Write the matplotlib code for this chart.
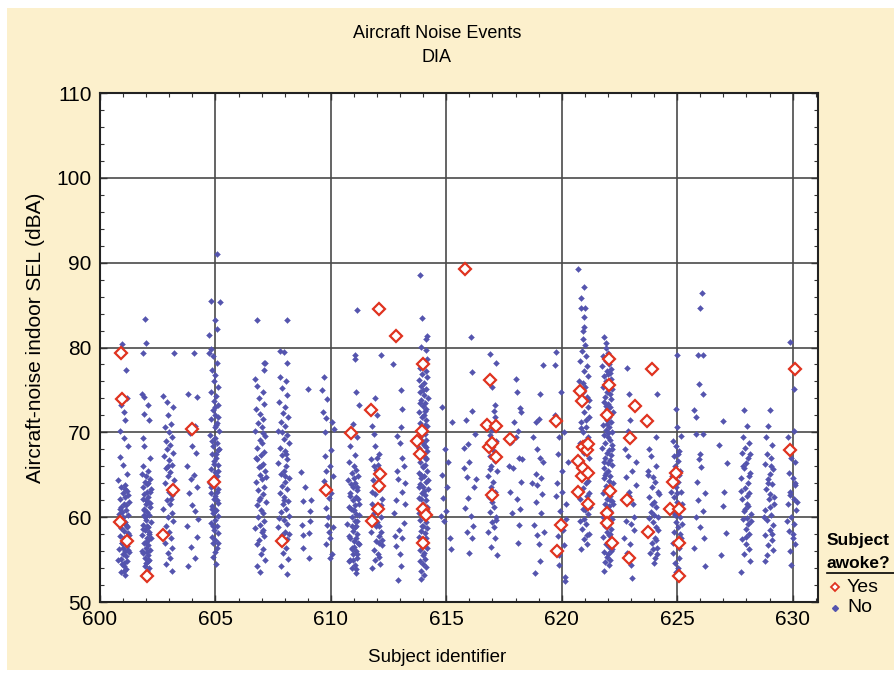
import matplotlib
matplotlib.use("Agg")
import matplotlib.pyplot as plt
from matplotlib.patches import Rectangle
from matplotlib.lines import Line2D
from matplotlib.ticker import MultipleLocator

plt.rcParams['font.family'] = ['Liberation Sans Narrow', 'Liberation Sans', 'DejaVu Sans']

# "No" events per subject: (offset from subject id, indoor SEL dBA)
no_601 = [(-0.05, 80.4), (0.12, 77.3), (0.18, 74.0), (-0.1, 73.2), (0.02, 72.4), (0.08, 71.4), (-0.15, 70.2),
          (0.05, 69.3), (0.2, 68.4), (-0.12, 67.1), (0.0, 66.2), (0.15, 65.1), (-0.2, 64.4), (0.07, 63.8),
          (-0.08, 63.5), (0.18, 63.1), (-0.02, 62.8), (0.1, 62.4), (-0.15, 62.1), (0.25, 61.8), (0.04, 61.5),
          (-0.1, 61.2), (0.13, 60.9), (-0.05, 60.6), (0.2, 60.3), (0.0, 60.0), (-0.18, 59.7), (0.09, 59.4),
          (0.16, 59.0), (-0.07, 58.7), (0.03, 58.4), (0.22, 58.1), (-0.12, 57.8), (0.06, 57.5), (0.14, 57.2),
          (-0.03, 56.9), (0.19, 56.6), (-0.16, 56.3), (0.08, 56.0), (0.01, 55.7), (0.11, 55.4), (-0.09, 55.1),
          (0.17, 54.8), (-0.04, 54.5), (0.05, 54.2), (0.13, 53.9), (-0.11, 53.5), (0.07, 53.2), (0.21, 62.6),
          (-0.13, 61.0), (0.1, 59.2), (-0.06, 57.0), (0.24, 55.9), (0.02, 54.6), (-0.17, 60.4), (0.15, 58.8),
          (-0.01, 56.4), (0.09, 63.3), (0.27, 57.9), (-0.22, 55.0), (0.12, 61.4), (-0.03, 59.9), (0.2, 56.1),
          (0.06, 53.7)]
no_602 = [(-0.05, 83.4), (-0.01, 80.5), (-0.15, 79.4), (-0.2, 74.5), (-0.08, 74.2), (0.08, 73.2), (-0.1, 72.2),
          (0.12, 71.4), (-0.14, 69.3), (-0.1, 68.4), (0.18, 67.0), (-0.14, 66.0), (0.1, 65.4), (-0.2, 65.1),
          (0.0, 64.8), (0.15, 64.5), (-0.05, 64.2), (0.05, 63.9), (-0.12, 63.6), (0.2, 63.3), (0.02, 63.0),
          (-0.08, 62.7), (0.1, 62.4), (-0.15, 62.1), (0.07, 61.8), (-0.02, 61.5), (0.17, 61.2), (-0.1, 60.9),
          (0.04, 60.6), (0.12, 60.3), (-0.06, 60.0), (0.0, 59.7), (0.19, 59.4), (-0.13, 59.1), (0.08, 58.8),
          (-0.04, 58.5), (0.14, 58.2), (-0.18, 57.9), (0.03, 57.6), (0.1, 57.3), (-0.09, 57.0), (0.06, 56.7),
          (-0.01, 56.4), (0.16, 56.1), (-0.12, 55.8), (0.09, 55.5), (-0.05, 55.2), (0.13, 54.9), (0.01, 54.6),
          (-0.07, 54.3), (0.11, 54.0), (0.05, 53.6), (-0.03, 53.3), (0.15, 63.0), (-0.11, 61.0), (0.02, 59.0),
          (0.2, 57.5), (-0.16, 56.0), (0.08, 54.8), (-0.02, 62.0), (0.12, 58.0), (0.04, 55.9), (-0.08, 60.2),
          (0.18, 61.7), (-0.14, 58.6), (0.06, 64.0), (0.0, 57.1), (0.1, 55.0)]
no_603 = [(-0.25, 74.3), (-0.1, 73.6), (0.15, 73.0), (-0.05, 72.0), (0.08, 71.0), (-0.2, 70.6), (-0.02, 70.0),
          (0.1, 69.5), (-0.15, 69.0), (0.05, 68.5), (-0.08, 68.0), (0.18, 67.6), (-0.22, 67.2), (0.0, 66.7),
          (0.12, 66.2), (-0.12, 65.8), (0.04, 65.3), (-0.06, 64.9), (0.2, 64.4), (-0.18, 64.0), (0.07, 63.6),
          (-0.03, 63.0), (0.14, 62.6), (-0.1, 62.0), (0.02, 61.6), (-0.26, 61.0), (0.1, 60.5), (-0.05, 60.0),
          (0.16, 59.5), (-0.14, 59.0), (0.0, 58.3), (0.08, 57.6), (-0.2, 57.0), (0.12, 56.4), (-0.07, 55.8),
          (0.05, 55.2), (-0.12, 54.5), (0.1, 53.6), (-0.04, 66.0), (0.06, 62.2), (0.2, 79.4)]
no_604 = [(0.07, 79.4), (-0.2, 74.5), (0.2, 74.2), (0.1, 70.8), (-0.1, 69.9), (0.15, 67.6), (-0.25, 66.0),
          (0.05, 65.0), (-0.05, 64.5), (0.22, 63.6), (-0.15, 62.8), (0.0, 61.4), (0.12, 60.7), (-0.22, 58.9),
          (0.18, 57.7), (-0.08, 56.5), (0.1, 55.2), (-0.18, 54.2), (0.25, 59.8), (-0.02, 68.4)]
no_605 = [(-0.27, 79.3), (-0.2, 79.8), (-0.27, 81.5), (-0.02, 83.2), (0.07, 82.2), (-0.2, 85.5), (0.2, 85.4),
          (0.08, 91.0), (-0.1, 79.0), (0.05, 78.2), (-0.15, 77.4), (0.0, 76.8), (-0.05, 76.0), (0.1, 75.4),
          (-0.2, 74.8), (0.02, 74.3), (-0.08, 73.7), (0.12, 73.2), (-0.12, 72.6), (0.0, 72.1), (-0.18, 71.6),
          (0.08, 71.1), (-0.04, 70.6), (0.14, 70.2), (-0.22, 69.7), (-0.02, 69.3), (0.06, 68.8), (-0.1, 68.4),
          (0.1, 67.9), (-0.16, 67.5), (0.02, 67.0), (-0.06, 66.6), (0.13, 66.1), (-0.2, 65.7), (-0.01, 65.3),
          (0.07, 64.9), (-0.12, 64.5), (0.04, 64.1), (-0.08, 63.7), (0.11, 63.3), (-0.18, 62.9), (0.0, 62.5),
          (-0.05, 62.1), (0.09, 61.7), (-0.14, 61.3), (0.03, 60.9), (-0.1, 60.5), (0.12, 60.1), (-0.03, 59.7),
          (-0.2, 59.3), (0.06, 58.9), (-0.07, 58.5), (0.1, 58.1), (-0.15, 57.7), (0.0, 57.3), (-0.09, 56.9),
          (0.08, 56.4), (-0.04, 55.9), (-0.12, 55.3), (0.03, 54.5), (-0.06, 66.3), (0.05, 63.0), (-0.13, 61.0),
          (0.15, 68.0), (-0.24, 64.0), (0.01, 70.9), (-0.1, 59.0), (0.07, 62.0), (-0.01, 73.0), (0.09, 65.5),
          (-0.16, 69.0), (0.12, 57.0), (-0.02, 60.7), (0.04, 67.4), (-0.19, 63.5), (0.1, 71.8)]
no_607 = [(0.16, 78.2), (0.1, 77.3), (-0.3, 76.3), (-0.2, 75.5), (0.05, 74.8), (-0.1, 74.0), (0.12, 73.3),
          (-0.25, 72.7), (-0.05, 72.2), (0.08, 71.6), (-0.15, 71.1), (0.0, 70.6), (-0.28, 70.1), (0.15, 69.6),
          (-0.08, 69.1), (0.03, 68.7), (-0.18, 68.2), (0.1, 67.7), (-0.02, 67.3), (-0.22, 66.8), (0.06, 66.3),
          (-0.12, 65.9), (0.13, 65.4), (-0.05, 65.0), (0.0, 64.5), (-0.25, 64.1), (0.09, 63.6), (-0.14, 63.2),
          (0.04, 62.7), (-0.08, 62.3), (0.17, 61.8), (-0.2, 61.4), (-0.01, 60.9), (0.07, 60.5), (-0.16, 60.0),
          (0.12, 59.6), (-0.06, 59.1), (-0.28, 58.7), (0.02, 58.2), (0.1, 57.8), (-0.1, 57.3), (-0.22, 56.8),
          (0.05, 56.2), (-0.04, 55.6), (0.14, 55.0), (-0.18, 54.3), (-0.09, 53.5), (0.08, 69.9), (-0.03, 66.0),
          (-0.12, 62.0), (0.06, 58.5), (0.18, 64.7), (-0.24, 67.0), (-0.2, 83.2), (0.1, 78.2)]
no_608 = [(0.1, 83.2), (0.1, 78.2), (-0.2, 79.6), (-0.05, 79.5), (-0.2, 76.5), (0.05, 76.0), (-0.1, 75.2),
          (0.12, 74.4), (-0.25, 73.6), (0.0, 73.0), (-0.08, 72.3), (0.15, 71.8), (-0.15, 71.2), (0.03, 70.7),
          (-0.3, 70.2), (0.09, 69.7), (-0.05, 69.2), (0.18, 68.7), (-0.2, 68.2), (0.0, 67.8), (-0.1, 67.3),
          (0.12, 66.9), (-0.27, 66.4), (0.06, 66.0), (-0.03, 65.5), (-0.16, 65.1), (0.2, 64.6), (0.02, 64.2),
          (-0.12, 63.7), (0.1, 63.3), (-0.22, 62.8), (-0.02, 62.4), (0.14, 61.9), (-0.08, 61.5), (0.05, 61.0),
          (-0.18, 60.6), (0.17, 60.1), (-0.05, 59.7), (0.08, 59.2), (-0.28, 58.8), (0.0, 58.3), (-0.12, 57.9),
          (0.12, 57.4), (-0.2, 56.9), (0.04, 56.4), (-0.08, 55.8), (0.15, 55.1), (-0.15, 54.3), (0.1, 53.3),
          (-0.01, 62.0), (0.07, 67.5), (-0.24, 59.9), (0.2, 58.0), (-0.1, 70.0), (0.03, 64.9)]
no_609 = [(0.0, 75.1), (-0.3, 65.3), (-0.2, 61.9), (0.08, 60.7), (-0.25, 59.1), (0.08, 59.5), (0.05, 58.1),
          (-0.2, 56.4), (0.05, 55.2), (-0.22, 57.9), (-0.1, 63.5), (0.12, 62.0)]
no_610 = [(-0.3, 76.5), (-0.15, 73.9), (-0.2, 71.7), (0.12, 70.4), (-0.25, 70.0), (-0.27, 67.2), (-0.2, 65.5),
          (-0.3, 64.3), (-0.07, 62.3), (-0.2, 61.1), (-0.17, 59.1), (-0.08, 58.3), (-0.2, 56.8), (-0.05, 55.2),
          (-0.4, 75.0), (-0.33, 72.4), (0.05, 71.2), (0.0, 67.9), (-0.05, 66.0), (0.1, 64.8), (0.0, 62.8),
          (-0.12, 60.0), (0.08, 58.8), (-0.02, 57.5), (0.05, 55.6)]
no_611 = [(0.14, 84.4), (0.04, 79.1), (0.04, 78.6), (0.1, 74.7), (0.2, 73.2), (-0.05, 71.0), (0.15, 69.5),
          (-0.15, 68.4), (0.05, 67.3), (-0.2, 66.5), (0.0, 66.0), (0.1, 65.6), (-0.1, 65.2), (0.18, 64.8),
          (-0.25, 64.4), (0.03, 64.0), (-0.05, 63.6), (0.12, 63.2), (-0.15, 62.8), (0.07, 62.4), (-0.02, 62.0),
          (0.2, 61.6), (-0.2, 61.2), (0.0, 60.8), (0.1, 60.4), (-0.1, 60.0), (0.15, 59.6), (-0.28, 59.2),
          (0.04, 58.8), (-0.06, 58.4), (0.12, 58.0), (-0.16, 57.6), (0.02, 57.2), (0.2, 56.8), (-0.1, 56.4),
          (0.08, 56.0), (-0.03, 55.6), (0.14, 55.2), (-0.2, 54.8), (0.05, 54.4), (-0.08, 54.0), (0.1, 53.4),
          (-0.12, 63.9), (0.16, 62.1), (-0.04, 60.9), (0.09, 59.0), (-0.22, 57.8), (0.01, 56.5), (0.13, 55.7),
          (-0.15, 55.0), (0.06, 61.4), (-0.09, 58.9), (0.19, 57.0), (-0.01, 64.6), (0.11, 53.9), (-0.18, 62.5),
          (0.03, 59.6), (0.22, 60.2), (-0.07, 56.2), (0.07, 57.5), (-0.13, 61.0), (0.15, 63.5), (-0.03, 54.9)]
no_612 = [(0.15, 79.1), (-0.1, 74.0), (0.0, 72.0), (-0.2, 70.8), (-0.15, 69.8), (-0.1, 68.4), (0.1, 67.5),
          (-0.25, 66.8), (0.05, 66.2), (-0.05, 65.6), (0.18, 65.0), (-0.18, 64.4), (0.0, 63.9), (0.12, 63.3),
          (-0.08, 62.7), (0.22, 62.2), (-0.2, 61.6), (0.03, 61.1), (-0.12, 60.5), (0.15, 60.0), (-0.02, 59.4),
          (0.08, 58.9), (-0.25, 58.3), (0.1, 57.8), (-0.06, 57.2), (0.2, 56.7), (-0.15, 56.1), (0.04, 55.6),
          (-0.1, 55.0), (0.12, 54.5), (-0.2, 54.0), (0.0, 67.0), (0.16, 61.4), (-0.04, 59.0), (0.07, 56.9),
          (-0.22, 63.0), (0.19, 58.2), (-0.13, 66.0), (0.02, 64.7), (0.1, 55.3), (-0.07, 60.8), (0.23, 57.3)]
no_613 = [(-0.3, 78.1), (0.1, 72.8), (0.05, 70.6), (0.0, 68.8), (0.1, 67.0), (-0.15, 65.5), (-0.1, 64.5),
          (0.08, 63.0), (-0.2, 62.0), (0.15, 59.3), (0.1, 57.5), (0.0, 55.6), (-0.1, 52.6), (-0.25, 60.5),
          (0.2, 61.5), (-0.05, 58.5), (0.18, 66.0), (-0.18, 56.6), (0.05, 54.3), (-0.12, 69.6), (0.22, 64.0),
          (0.02, 75.0), (-0.22, 57.8)]
no_614 = [(-0.15, 88.5), (-0.05, 83.5), (0.11, 81.0), (-0.1, 80.1), (0.1, 79.7), (0.17, 78.6), (0.15, 81.3),
          (0.0, 78.0), (-0.12, 77.6), (0.1, 77.2), (-0.05, 76.9), (0.15, 76.5), (-0.2, 76.2), (0.05, 75.8),
          (-0.08, 75.5), (0.12, 75.1), (-0.15, 74.8), (0.02, 74.4), (0.2, 74.1), (-0.1, 73.8), (0.07, 73.4),
          (-0.02, 73.1), (0.14, 72.8), (-0.18, 72.4), (0.04, 72.1), (-0.06, 71.8), (0.1, 71.4), (-0.13, 71.1),
          (0.18, 70.8), (0.0, 70.4), (-0.09, 70.1), (0.08, 69.8), (-0.16, 69.4), (0.12, 69.1), (-0.03, 68.8),
          (0.05, 68.5), (-0.2, 68.1), (0.15, 67.8), (-0.07, 67.5), (0.02, 67.2), (0.1, 66.8), (-0.12, 66.5),
          (0.06, 66.2), (-0.02, 65.9), (0.17, 65.5), (-0.17, 65.2), (0.03, 64.9), (-0.08, 64.6), (0.11, 64.2),
          (-0.14, 63.9), (0.0, 63.6), (0.2, 63.3), (-0.05, 62.9), (0.08, 62.6), (-0.19, 62.3), (0.13, 62.0),
          (-0.01, 61.6), (0.05, 61.3), (-0.11, 61.0), (0.16, 60.7), (-0.06, 60.3), (0.02, 60.0), (-0.15, 59.7),
          (0.1, 59.4), (-0.03, 59.0), (0.18, 58.7), (-0.09, 58.4), (0.06, 58.1), (-0.2, 57.7), (0.01, 57.4),
          (0.12, 57.1), (-0.07, 56.8), (0.15, 56.4), (-0.13, 56.1), (0.04, 55.8), (-0.02, 55.5), (0.09, 55.1),
          (-0.16, 54.8), (0.0, 54.5), (0.13, 54.1), (-0.08, 53.7), (0.05, 53.2), (-0.1, 52.7), (0.08, 70.9),
          (-0.04, 69.0), (0.13, 67.0), (-0.11, 65.0), (0.03, 63.1), (0.17, 61.2), (-0.18, 60.5), (0.07, 59.9),
          (-0.06, 58.9), (0.11, 57.6), (-0.14, 67.7), (0.01, 66.0), (0.19, 64.4), (-0.09, 62.1), (0.04, 60.9),
          (-0.12, 73.5), (0.09, 72.5), (-0.01, 75.0), (0.14, 68.3), (-0.17, 63.5)]
no_615 = [(-0.15, 62.3), (0.0, 60.7), (-0.1, 59.5), (0.25, 71.2), (-0.2, 65.0), (0.05, 63.5), (-0.25, 60.1),
          (0.15, 57.5), (-0.05, 68.0), (0.2, 56.2), (-0.18, 73.0), (0.08, 66.5)]
no_616 = [(0.05, 81.2), (0.1, 77.1), (-0.25, 68.2), (-0.05, 68.6), (0.0, 66.5), (-0.1, 64.7), (0.2, 63.5),
          (-0.2, 61.1), (0.05, 60.1), (0.1, 57.5), (-0.15, 71.5), (0.25, 69.8), (-0.08, 62.3), (0.15, 59.0),
          (0.0, 55.8), (-0.22, 65.8), (0.12, 72.5), (0.3, 64.5), (-0.1, 58.2)]
no_617 = [(-0.1, 79.2), (0.17, 78.2), (0.0, 75.3), (0.1, 73.2), (0.05, 72.5), (0.12, 71.8), (-0.2, 71.0),
          (0.0, 70.3), (-0.1, 69.7), (0.15, 69.0), (-0.25, 68.4), (0.05, 67.8), (-0.12, 67.2), (0.1, 66.6),
          (-0.05, 66.0), (0.18, 65.4), (-0.18, 64.8), (0.02, 64.2), (-0.08, 63.6), (0.12, 63.0), (-0.15, 62.4),
          (0.0, 61.8), (0.08, 61.2), (-0.1, 60.6), (0.15, 60.0), (-0.03, 59.4), (0.05, 58.8), (-0.2, 58.2),
          (0.1, 57.5), (-0.05, 56.5), (0.2, 55.5), (-0.12, 65.7), (0.06, 62.7), (0.14, 59.7)]
no_618 = [(0.0, 76.3), (0.05, 74.7), (0.2, 72.9), (0.25, 72.4), (-0.05, 71.2), (0.1, 70.2), (-0.2, 68.9),
          (0.15, 67.0), (-0.1, 65.8), (0.22, 64.1), (0.05, 62.1), (0.15, 59.1), (-0.25, 63.0), (-0.15, 60.5),
          (0.28, 66.8), (0.0, 69.5), (0.1, 57.0), (-0.3, 66.0), (0.2, 61.0)]
no_619 = [(0.17, 77.9), (0.05, 74.5), (0.0, 71.6), (-0.1, 71.2), (-0.05, 68.0), (-0.1, 65.1), (0.1, 64.6),
          (-0.05, 63.8), (0.15, 62.7), (-0.2, 59.1), (-0.05, 57.9), (0.0, 56.8), (0.05, 54.8), (-0.15, 53.4),
          (0.2, 66.5), (-0.25, 69.5), (0.1, 60.5), (-0.12, 61.8), (0.22, 58.3), (0.05, 67.0), (-0.3, 64.0)]
no_620 = [(-0.23, 79.5), (-0.3, 77.9), (-0.05, 74.7), (-0.1, 69.4), (-0.15, 67.5), (0.0, 65.5), (-0.2, 64.0),
          (-0.08, 60.7), (0.05, 58.5), (-0.1, 54.4), (0.12, 53.0), (0.15, 52.5), (-0.3, 72.0), (0.1, 70.0),
          (-0.25, 62.5), (0.2, 61.5), (0.08, 56.7), (-0.18, 57.8), (0.25, 66.5), (-0.12, 55.5), (0.0, 63.0),
          (0.18, 59.8)]
no_621 = [(-0.3, 89.2), (-0.03, 87.1), (-0.15, 85.8), (-0.15, 84.7), (0.0, 84.7), (-0.05, 83.6), (-0.02, 82.4),
          (-0.1, 82.0), (-0.08, 81.0), (0.0, 80.3), (-0.12, 79.6), (0.05, 79.0), (-0.2, 78.4), (0.1, 77.8),
          (-0.05, 77.2), (0.15, 76.6), (-0.25, 76.0), (0.0, 75.4), (-0.1, 74.8), (0.08, 74.2), (-0.18, 73.6),
          (0.12, 73.0), (-0.02, 72.4), (0.2, 71.8), (-0.15, 71.2), (0.03, 70.6), (-0.08, 70.0), (0.14, 69.4),
          (-0.22, 68.8), (0.06, 68.2), (-0.04, 67.6), (0.18, 67.0), (-0.12, 66.4), (0.0, 65.8), (0.1, 65.2),
          (-0.16, 64.6), (0.04, 64.0), (-0.07, 63.4), (0.16, 62.8), (-0.2, 62.2), (0.02, 61.6), (-0.1, 61.0),
          (0.12, 60.4), (-0.03, 59.8), (0.07, 59.2), (-0.14, 58.6), (0.2, 58.0), (-0.05, 57.4), (0.1, 56.8),
          (-0.18, 56.2), (0.0, 60.8), (0.14, 64.3), (-0.11, 67.9), (0.05, 71.5), (-0.06, 75.8), (0.09, 62.5),
          (-0.23, 59.5), (0.17, 73.8), (-0.01, 69.0), (0.11, 57.9), (-0.09, 65.3), (0.22, 61.2), (-0.15, 70.5)]
no_622 = [(-0.15, 81.2), (-0.1, 80.5), (-0.07, 79.9), (0.0, 79.3), (-0.2, 79.0), (0.1, 78.7), (-0.1, 78.4),
          (0.05, 78.1), (-0.25, 77.8), (0.15, 77.5), (-0.05, 77.2), (0.0, 76.9), (-0.15, 76.6), (0.12, 76.3),
          (-0.08, 76.0), (0.03, 75.7), (-0.22, 75.4), (0.18, 75.1), (-0.02, 74.8), (0.08, 74.5), (-0.12, 74.2),
          (0.14, 73.9), (-0.18, 73.6), (0.0, 73.3), (0.1, 73.0), (-0.06, 72.7), (0.2, 72.4), (-0.14, 72.1),
          (0.04, 71.8), (-0.03, 71.5), (0.12, 71.2), (-0.2, 70.9), (0.06, 70.6), (-0.09, 70.3), (0.16, 70.0),
          (-0.16, 69.7), (0.01, 69.4), (0.09, 69.1), (-0.11, 68.8), (0.19, 68.5), (-0.24, 68.2), (0.03, 67.9),
          (-0.04, 67.6), (0.13, 67.3), (-0.13, 67.0), (0.07, 66.7), (-0.01, 66.4), (0.17, 66.1), (-0.19, 65.8),
          (0.02, 65.5), (-0.07, 65.2), (0.11, 64.9), (-0.15, 64.6), (0.05, 64.3), (0.21, 64.0), (-0.1, 63.7),
          (0.0, 63.4), (0.14, 63.1), (-0.21, 62.8), (0.08, 62.5), (-0.05, 62.2), (0.17, 61.9), (-0.12, 61.6),
          (0.03, 61.3), (-0.02, 61.0), (0.1, 60.7), (-0.17, 60.4), (0.06, 60.1), (0.19, 59.8), (-0.08, 59.5),
          (0.01, 59.2), (-0.14, 58.9), (0.12, 58.6), (-0.04, 58.3), (0.08, 58.0), (-0.2, 57.7), (0.15, 57.4),
          (0.0, 57.1), (-0.1, 56.8), (0.05, 56.5), (0.18, 56.2), (-0.16, 55.9), (0.02, 55.6), (-0.06, 55.3),
          (0.1, 55.0), (-0.12, 54.7), (0.04, 54.4), (-0.15, 53.6), (0.09, 75.5), (-0.06, 71.0), (0.16, 68.0),
          (-0.11, 65.0), (0.07, 62.0), (-0.03, 59.0), (0.13, 56.0), (-0.18, 66.5), (0.02, 69.9), (0.2, 61.5),
          (-0.09, 73.1), (0.11, 77.0), (-0.13, 63.2), (0.05, 57.9), (-0.23, 60.0)]
no_623 = [(-0.16, 77.6), (-0.1, 74.5), (-0.05, 71.4), (-0.15, 70.2), (0.2, 66.5), (-0.2, 64.7), (-0.1, 63.0),
          (0.1, 61.5), (-0.2, 59.5), (-0.05, 56.8), (0.0, 54.4), (0.05, 52.8), (-0.25, 68.0), (0.12, 60.0),
          (-0.3, 57.5), (0.15, 58.5), (-0.08, 62.5), (0.05, 65.5), (-0.18, 55.8), (0.2, 63.8), (-0.12, 67.2),
          (0.02, 59.2)]
no_624 = [(0.12, 74.5), (-0.2, 68.0), (-0.15, 67.2), (-0.05, 64.7), (0.1, 66.0), (-0.25, 65.5), (0.05, 64.2),
          (-0.1, 63.6), (0.15, 63.0), (-0.2, 62.4), (0.0, 61.8), (0.08, 61.2), (-0.12, 60.6), (0.18, 60.0),
          (-0.05, 59.4), (0.1, 58.8), (-0.15, 58.2), (0.03, 57.6), (-0.08, 57.0), (0.14, 56.4), (-0.18, 55.8),
          (0.05, 55.2), (-0.02, 54.6), (0.2, 62.7), (-0.22, 59.9), (0.07, 57.3), (-0.1, 61.5), (0.12, 55.6),
          (0.0, 60.3), (-0.28, 65.0), (0.1, 69.5), (-0.3, 71.0), (0.16, 58.5), (-0.06, 56.2)]
no_625 = [(0.0, 79.1), (-0.05, 72.8), (0.0, 70.6), (0.15, 69.6), (-0.2, 69.0), (-0.05, 68.4), (0.1, 67.8),
          (-0.15, 67.2), (0.02, 66.6), (-0.08, 66.0), (0.14, 65.4), (-0.22, 64.8), (0.05, 64.2), (-0.03, 63.6),
          (0.18, 63.0), (-0.12, 62.4), (0.0, 61.8), (0.08, 61.2), (-0.18, 60.6), (0.12, 60.0), (-0.06, 59.4),
          (0.03, 58.8), (-0.14, 58.2), (0.16, 57.6), (-0.02, 57.0), (0.06, 56.4), (-0.2, 55.8), (0.1, 55.2),
          (-0.1, 54.6), (0.02, 54.0), (-0.05, 53.5), (0.2, 61.5), (-0.25, 63.0), (0.07, 65.0), (-0.09, 60.2),
          (0.13, 58.0), (-0.17, 56.9), (0.04, 67.4), (-0.01, 62.9), (0.22, 59.2)]
no_626 = [(-0.03, 84.7), (0.07, 86.4), (-0.1, 79.1), (0.1, 79.1), (-0.05, 75.7), (0.1, 74.5), (-0.27, 72.6),
          (-0.2, 71.8), (-0.2, 69.8), (0.1, 69.8), (0.0, 67.5), (0.05, 65.9), (-0.15, 64.1), (0.2, 62.8),
          (0.1, 60.7), (-0.25, 56.4), (0.2, 54.2), (-0.1, 62.0), (0.0, 58.8), (-0.05, 66.8), (0.15, 57.5),
          (-0.2, 60.0)]
no_627 = [(0.0, 71.3), (0.15, 66.4), (0.0, 61.3), (0.1, 58.1), (-0.2, 68.5), (-0.1, 55.5), (0.05, 63.0)]
no_628 = [(-0.1, 72.6), (0.03, 70.8), (-0.15, 69.5), (0.1, 68.8), (-0.05, 68.2), (-0.2, 67.6), (0.08, 67.0),
          (0.0, 66.4), (-0.12, 65.8), (0.15, 65.2), (-0.25, 64.6), (0.05, 64.0), (-0.06, 63.4), (0.12, 62.8),
          (-0.18, 62.2), (0.02, 61.6), (-0.08, 61.0), (0.18, 60.4), (-0.14, 59.8), (0.07, 59.2), (-0.03, 58.6),
          (0.13, 58.0), (-0.2, 57.4), (0.0, 56.8), (0.1, 56.2), (-0.1, 55.6), (0.15, 54.8), (-0.25, 53.5),
          (0.04, 62.5), (-0.1, 60.7), (0.09, 64.9), (-0.16, 66.0), (0.2, 59.5), (-0.04, 57.7), (0.06, 61.3),
          (-0.22, 63.1), (0.14, 67.4), (0.01, 59.9)]
no_629 = [(0.0, 72.6), (-0.05, 70.8), (-0.15, 69.5), (0.1, 68.5), (-0.1, 67.5), (0.05, 67.0), (-0.2, 66.3),
          (0.15, 65.7), (0.0, 65.1), (-0.08, 64.5), (0.12, 63.9), (-0.15, 63.3), (0.04, 62.7), (-0.03, 62.1),
          (0.18, 61.5), (-0.2, 60.9), (0.07, 60.3), (-0.1, 59.7), (0.13, 59.1), (0.0, 58.5), (-0.18, 57.9),
          (0.09, 57.3), (-0.05, 56.7), (0.15, 56.1), (-0.12, 55.5), (-0.2, 54.8), (0.02, 61.2), (-0.06, 64.0),
          (0.1, 58.0), (0.2, 62.4), (-0.25, 60.0), (0.06, 66.0)]
no_630 = [(-0.1, 80.6), (0.05, 75.1), (0.05, 70.2), (-0.2, 69.4), (-0.05, 67.0), (0.1, 66.5), (-0.15, 65.2),
          (0.0, 64.6), (0.12, 63.8), (-0.1, 63.0), (0.05, 62.2), (-0.2, 61.5), (0.15, 60.8), (-0.05, 60.0),
          (0.08, 59.2), (-0.15, 58.4), (0.0, 57.6), (0.12, 56.8), (-0.1, 56.0), (-0.05, 54.4), (0.2, 61.8),
          (-0.25, 59.6), (0.03, 58.0), (-0.12, 62.6), (0.1, 64.0)]

# "Yes" events (subject awoke)
yes_x = [600.90, 600.94, 600.85, 601.18, 602.05, 602.74, 603.17, 604.00, 604.95, 607.90, 609.81, 610.87,
         611.74, 611.80, 612.03, 612.09, 612.13, 612.08, 612.81, 613.72, 613.87, 613.94, 614.01, 614.01,
         614.13, 614.01, 615.80, 616.77, 616.84, 616.91, 616.96, 616.99, 617.16, 617.16, 617.75, 619.74,
         619.78, 619.96, 620.69, 620.72, 620.77, 620.87, 620.87, 620.91, 620.91, 621.10, 621.13, 621.15,
         621.15, 621.96, 621.97, 621.97, 622.06, 622.06, 622.10, 622.16, 622.83, 622.90, 622.94, 623.17,
         623.69, 623.74, 623.91, 624.71, 624.83, 624.95, 625.07, 625.07, 625.07, 629.90, 630.10]
yes_y = [79.4, 73.9, 59.4, 57.2, 53.1, 57.9, 63.2, 70.4, 64.1, 57.2, 63.2, 69.9,
         72.6, 59.6, 61.0, 63.7, 65.1, 84.5, 81.3, 69.0, 67.4, 70.1, 78.0, 61.0,
         60.2, 56.9, 89.2, 70.9, 68.3, 76.2, 68.8, 62.6, 70.8, 67.1, 69.2, 71.3,
         56.0, 59.1, 66.6, 63.0, 74.9, 73.7, 64.8, 68.3, 65.8, 67.9, 61.6, 68.6,
         65.2, 72.1, 60.5, 59.3, 78.6, 75.6, 63.1, 57.0, 62.0, 55.2, 69.3, 73.1,
         71.3, 58.2, 77.5, 61.0, 64.1, 65.2, 61.0, 57.0, 53.1, 67.9, 77.5]

no_groups = [(601, no_601), (602, no_602), (603, no_603), (604, no_604), (605, no_605), (607, no_607),
             (608, no_608), (609, no_609), (610, no_610), (611, no_611), (612, no_612), (613, no_613),
             (614, no_614), (615, no_615), (616, no_616), (617, no_617), (618, no_618), (619, no_619),
             (620, no_620), (621, no_621), (622, no_622), (623, no_623), (624, no_624), (625, no_625),
             (626, no_626), (627, no_627), (628, no_628), (629, no_629), (630, no_630)]

no_x = []
no_y = []
for subj, pts in no_groups:
    for dx, y in pts:
        no_x.append(subj + dx)
        no_y.append(y)

beige = '#fcf0cc'
blue = '#5454ae'
red = '#e0331f'

fig = plt.figure(figsize=(8.95, 6.73), dpi=100, facecolor='white')
fig.patches.append(Rectangle((0.008, 0.004), 0.992, 0.984, transform=fig.transFigure,
                             facecolor=beige, edgecolor='none', zorder=-10))

ax = fig.add_axes([100 / 895, 1 - 602 / 673, 718 / 895, 509 / 673])
ax.set_facecolor('white')

ax.plot(no_x, no_y, linestyle='none', marker='D', markersize=3.0, color=blue,
        markeredgewidth=0.3, zorder=3)
ax.plot(yes_x, yes_y, linestyle='none', marker='D', markersize=6.4, markerfacecolor='white',
        markeredgecolor=red, markeredgewidth=1.6, zorder=4)

ax.set_xlim(600, 631.1)
ax.set_ylim(50, 110)
ax.xaxis.set_major_locator(MultipleLocator(5))
ax.xaxis.set_minor_locator(MultipleLocator(1))
ax.yaxis.set_major_locator(MultipleLocator(10))
ax.yaxis.set_minor_locator(MultipleLocator(2))
ax.grid(True, which='major', color='#4a4a4a', linewidth=1.2, zorder=1)
ax.set_axisbelow(True)
ax.tick_params(which='both', direction='in', top=True, right=True, color='#333333')
ax.tick_params(which='major', length=5, width=1, labelsize=15, pad=6)
ax.tick_params(which='minor', length=3, width=0.8)
for s in ax.spines.values():
    s.set_linewidth(1.5)
    s.set_color('#222222')

fig.text(437 / 895, 1 - 33 / 673, 'Aircraft Noise Events', ha='center', va='center', fontsize=13)
fig.text(437 / 895, 1 - 57 / 673, 'DIA', ha='center', va='center', fontsize=13)
fig.text(437 / 895, 1 - 658 / 673, 'Subject identifier', ha='center', va='center', fontsize=13.5)
fig.text(36 / 895, 1 - 338 / 673, 'Aircraft-noise indoor SEL (dBA)', ha='center', va='center',
         rotation=90, fontsize=15)

# legend block at the right edge
fig.text(827 / 895, 1 - 540 / 673, 'Subject', ha='left', va='center', fontsize=12.5, fontweight='bold')
fig.text(827 / 895, 1 - 563 / 673, 'awoke?', ha='left', va='center', fontsize=12.5, fontweight='bold')
fig.add_artist(Line2D([827 / 895, 0.999], [1 - 573 / 673, 1 - 573 / 673], color='black', linewidth=1.2))
fig.add_artist(Line2D([835 / 895], [1 - 587 / 673], marker='D', markersize=4.5, markerfacecolor='white',
                      markeredgecolor=red, markeredgewidth=1.3, linestyle='none'))
fig.text(847 / 895, 1 - 587 / 673, 'Yes', ha='left', va='center', fontsize=14)
fig.add_artist(Line2D([835 / 895], [1 - 608 / 673], marker='D', markersize=3.0, color=blue, linestyle='none'))
fig.text(847 / 895, 1 - 608 / 673, 'No', ha='left', va='center', fontsize=14)

fig.savefig('out.png', dpi=100, facecolor=fig.get_facecolor())
